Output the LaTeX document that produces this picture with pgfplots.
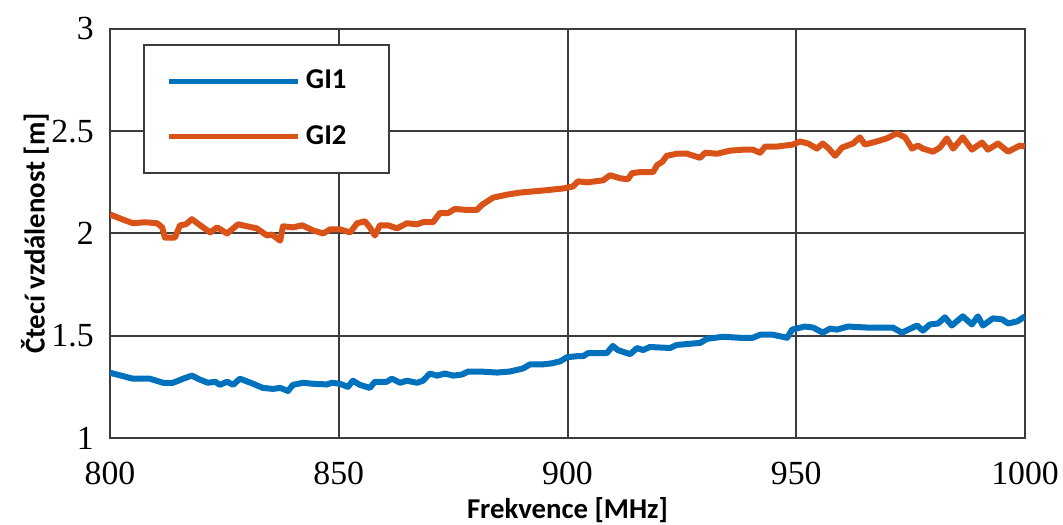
\documentclass[border=0pt]{standalone}
\usepackage{fontspec}
\setmainfont{Liberation Serif}
\newfontfamily\labelfont{Carlito}
\usepackage{pgfplots}
\usepackage{pgfplotstable}
\pgfplotsset{compat=1.18}

\definecolor{gione}{RGB}{0,114,189}
\definecolor{gitwo}{RGB}{217,83,25}
\definecolor{gridgray}{RGB}{60,60,60}

% GI1 reading range versus frequency
\pgfplotstableread{
f d
800.0 1.319
805.0 1.290
808.7 1.290
811.6 1.270
813.8 1.270
816.0 1.290
817.9 1.305
819.7 1.285
821.4 1.270
823.0 1.275
824.0 1.260
825.6 1.275
826.9 1.260
828.4 1.290
831.3 1.265
833.4 1.245
835.6 1.240
837.2 1.245
838.9 1.230
840.0 1.260
842.2 1.270
844.4 1.265
847.4 1.262
848.5 1.270
850.3 1.265
852.0 1.250
853.1 1.280
854.6 1.260
856.8 1.245
857.9 1.275
860.5 1.275
861.6 1.290
863.4 1.270
864.9 1.280
867.1 1.270
868.4 1.280
869.9 1.315
871.5 1.305
873.2 1.315
875.0 1.305
876.9 1.310
878.3 1.325
880.9 1.325
884.6 1.320
887.4 1.325
890.3 1.340
891.8 1.360
894.6 1.360
896.6 1.365
898.4 1.375
899.9 1.395
902.1 1.400
903.4 1.400
904.5 1.415
908.6 1.415
909.9 1.450
911.0 1.430
913.7 1.410
915.2 1.440
916.5 1.430
918.0 1.445
922.4 1.440
923.9 1.455
929.0 1.465
930.5 1.485
934.0 1.495
937.7 1.490
940.5 1.490
942.1 1.505
944.9 1.505
948.0 1.490
949.1 1.530
951.9 1.545
953.7 1.540
955.8 1.515
957.4 1.535
958.9 1.530
961.3 1.545
965.5 1.540
971.1 1.540
973.1 1.515
976.4 1.550
977.7 1.525
979.2 1.555
981.0 1.560
982.5 1.590
984.0 1.550
986.4 1.595
988.4 1.555
989.7 1.595
990.8 1.550
993.0 1.585
995.0 1.580
996.3 1.560
998.3 1.570
1000.0 1.595
}\gione

% GI2 reading range versus frequency
\pgfplotstableread{
f d
800.0 2.093
802.6 2.070
805.0 2.050
807.7 2.055
810.3 2.050
811.4 2.030
812.0 1.980
814.2 1.980
815.3 2.040
816.6 2.045
817.9 2.070
819.7 2.040
821.9 2.005
823.4 2.030
825.6 2.000
828.0 2.045
830.0 2.035
832.1 2.025
834.3 1.990
835.4 1.995
837.2 1.965
837.8 2.035
840.0 2.030
842.0 2.040
844.4 2.015
846.6 2.000
848.1 2.020
850.3 2.020
852.5 2.005
854.0 2.050
855.7 2.060
856.8 2.030
857.9 1.990
859.0 2.040
860.8 2.040
862.7 2.025
864.9 2.050
867.1 2.045
868.4 2.055
870.6 2.055
872.1 2.100
873.9 2.100
875.4 2.120
878.0 2.115
880.2 2.115
881.3 2.140
883.7 2.175
886.8 2.190
889.6 2.200
894.6 2.210
899.0 2.220
901.2 2.230
902.3 2.255
904.3 2.250
907.8 2.260
909.3 2.285
911.5 2.270
913.2 2.265
914.1 2.295
915.8 2.300
918.7 2.300
919.6 2.335
920.7 2.350
921.7 2.380
923.9 2.390
926.1 2.390
929.0 2.370
930.1 2.395
932.7 2.390
935.5 2.405
938.4 2.410
940.5 2.410
942.1 2.395
943.2 2.425
945.8 2.425
949.3 2.435
950.8 2.450
952.6 2.440
954.5 2.415
955.8 2.440
956.9 2.420
958.5 2.380
960.0 2.420
962.4 2.440
963.9 2.470
965.0 2.435
966.8 2.445
969.8 2.465
972.0 2.490
973.8 2.470
975.3 2.415
976.6 2.430
977.7 2.415
979.9 2.400
981.4 2.420
982.9 2.465
984.3 2.415
986.4 2.470
988.4 2.410
990.6 2.445
991.9 2.410
994.1 2.440
996.3 2.400
998.9 2.430
1000.0 2.425
}\gitwo

\begin{document}
\begin{tikzpicture}
\begin{axis}[
  scale only axis,
  width=366pt, height=163.6pt,
  xmin=800, xmax=1000,
  ymin=1, ymax=3,
  xtick={800,850,900,950,1000},
  ytick={1,1.5,2,2.5,3},
  /pgf/number format/assume math mode=true,
  /pgf/number format/1000 sep={},
  tick label style={font=\fontsize{13.5}{14}\selectfont},
  xticklabel style={yshift=-6pt},
  yticklabel style={xshift=-3pt},
  major tick length=0pt,
  axis line style={gridgray, line width=0.8pt},
  grid=major,
  major grid style={gridgray, line width=0.8pt},
  xlabel={Frekvence [MHz]},
  ylabel={Čtecí vzdálenost [m]},
  label style={font=\labelfont\bfseries\fontsize{11.5}{13}\selectfont},
  xlabel style={at={(axis description cs:0.5,-0.177)}, anchor=center},
  ylabel style={at={(axis description cs:-0.082,0.5)}, anchor=center},
  legend style={
    at={(axis description cs:0.036,0.963)}, anchor=north west,
    draw=gridgray, line width=0.8pt, fill=white,
    inner xsep=9pt, inner ysep=8pt, row sep=9pt,
    font=\labelfont\bfseries\fontsize{11.5}{13}\selectfont,
    nodes={inner sep=2pt, anchor=west},
  },
  legend cell align=left,
  legend image code/.code={\draw[#1, line width=2.2pt] (0pt,0pt) -- (51.6pt,0pt);},
]
\addplot[gione, line width=2.4pt, line join=round] table[x=f, y=d] {\gione};
\addlegendentry{GI1\hspace*{6pt}}
\addplot[gitwo, line width=2.4pt, line join=round] table[x=f, y=d] {\gitwo};
\addlegendentry{GI2\hspace*{6pt}}
\end{axis}
\pgfresetboundingbox
\path[use as bounding box] ([shift={(-44pt,-34.8pt)}]current axis.south west) rectangle ([shift={(15.2pt,11.6pt)}]current axis.north east);
\end{tikzpicture}
\end{document}
